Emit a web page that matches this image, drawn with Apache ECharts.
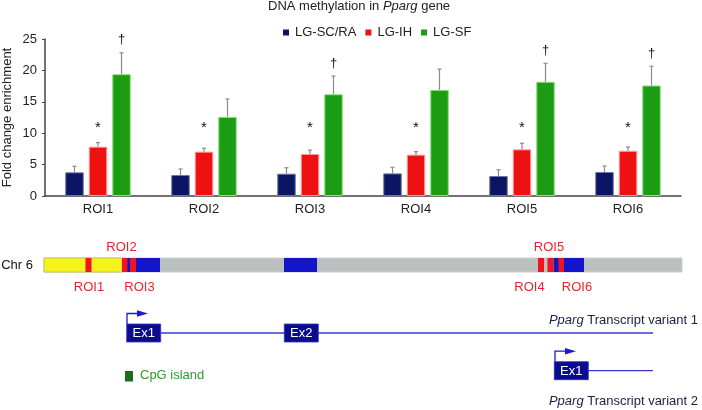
<!DOCTYPE html>
<html><head><meta charset="utf-8">
<script src="https://cdn.jsdelivr.net/npm/echarts@6/dist/echarts.min.js"></script>
<style>html,body{margin:0;padding:0;background:#fff}#c{width:702px;height:410px}</style>
</head><body><div id="c"></div>
<script>
// ---------- DATA ----------
const categories = ['ROI1', 'ROI2', 'ROI3', 'ROI4', 'ROI5', 'ROI6'];
const seriesNames = ['LG-SC/RA', 'LG-IH', 'LG-SF'];
const scra = [3.77, 3.34, 3.55, 3.60, 3.18, 3.82];
const scraSD = [0.96, 0.96, 0.95, 0.97, 1.00, 0.96];
const ih = [7.85, 7.06, 6.70, 6.58, 7.43, 7.20];
const ihSD = [0.65, 0.55, 0.60, 0.48, 0.97, 0.60];
const sf = [19.4, 12.6, 16.2, 16.9, 18.2, 17.6];
const sfSD = [3.40, 2.85, 2.90, 3.30, 2.93, 3.07];
const starFlags = [1, 1, 1, 1, 1, 1];     // * over LG-IH
const daggerFlags = [1, 0, 1, 0, 1, 1];   // † over LG-SF
const starLevel = 11.4;
const yTicks = [0, 5, 10, 15, 20, 25];

// gene map (arbitrary position units along Chr 6)
const chrStart = 0, chrEnd = 638;
const yellowSegs = [[0, 78]];
const blueSegs = [[78, 116], [240, 273], [509.5, 540]];
const roiNames = ['ROI1', 'ROI2', 'ROI3', 'ROI4', 'ROI5', 'ROI6'];
const roiStart = [41.5, 78, 86, 494, 503.5, 514.5];
const roiEnd = [47.5, 83.5, 92, 500, 509.5, 520];
const roiLabelPos = [45, 77.5, 95.5, 485.5, 505, 533];
const roiLabelSide = ['below', 'above', 'below', 'below', 'above', 'below'];
const tx1Exons = [['Ex1', 82.7, 116.7], ['Ex2', 240.3, 274.3]];
const tx1Span = [116.7, 609];
const tx2Exons = [['Ex1', 510.3, 544.3]];
const tx2Span = [544.3, 609];
const tssPos = [[83, 'tx1'], [511, 'tx2']];

// ---------- STYLE / LAYOUT ----------
const FONT = "'Liberation Sans', Arial, Helvetica, sans-serif";
const COLORS = ['#0b1563', '#ee1111', '#1c9c12'];
const BORDERS = ['#6a78a8', '#ff9a9a', '#8fe07f'];
const BAR_W = 18.5, BAR_GAP = 5;
const TRACK = {roiAbove: 7, chr: 25, roiBelow: 47, tx1Label: 80, tx1: 93, tx2: 130.7, tx2Label: 161.7};

const chart = echarts.init(document.getElementById('c'), null, {renderer: 'canvas'});

const means = [scra, ih, sf], sds = [scraSD, ihSD, sfSD];

function errSeries(i) {
  return {
    type: 'custom', xAxisIndex: 0, yAxisIndex: 0, z: 5, silent: true,
    data: categories.map((c, j) => [j, means[i][j], means[i][j] + sds[i][j]]),
    renderItem: function (params, api) {
      const off = (i - 1) * (BAR_W + BAR_GAP);
      const p0 = api.coord([api.value(0), api.value(1)]);
      const p1 = api.coord([api.value(0), api.value(2)]);
      const x = p0[0] + off;
      const st = {stroke: '#8a8a8a', lineWidth: 1.2};
      return {type: 'group', children: [
        {type: 'line', shape: {x1: x, y1: p0[1], x2: x, y2: p1[1]}, style: st},
        {type: 'line', shape: {x1: x - 2, y1: p1[1], x2: x + 2, y2: p1[1]}, style: st}
      ]};
    }
  };
}

const markSeries = {
  type: 'custom', xAxisIndex: 0, yAxisIndex: 0, z: 6, silent: true,
  data: categories.map((c, j) => [j, ih[j], sf[j] + sfSD[j], starFlags[j], daggerFlags[j]]),
  renderItem: function (params, api) {
    const ch = [];
    const j = api.value(0);
    if (api.value(3)) {
      const p = api.coord([j, starLevel]);
      ch.push({type: 'text', style: {text: '*', x: p[0], y: p[1] + 3, fill: '#111', font: '15px ' + FONT, align: 'center', verticalAlign: 'middle'}});
    }
    if (api.value(4)) {
      const p = api.coord([j, api.value(2)]);
      ch.push({type: 'text', style: {text: '†', x: p[0] + (BAR_W + BAR_GAP), y: p[1] - 13, fill: '#111', font: '13px ' + FONT, align: 'center', verticalAlign: 'middle'}});
    }
    return {type: 'group', children: ch};
  }
};

// ---- gene map series ----
const chrSeries = {
  type: 'custom', xAxisIndex: 1, yAxisIndex: 1, silent: true,
  data: [[chrStart, chrEnd, 0]].concat(yellowSegs.map(s => [s[0], s[1], 1]), blueSegs.map(s => [s[0], s[1], 2]),
        roiStart.map((s, k) => [s, roiEnd[k], 3])),
  renderItem: function (params, api) {
    const fills = ['#b9c0bf', '#f6f21c', '#1414c8', '#ee1520'];
    const t = api.value(2);
    const a = api.coord([api.value(0), TRACK.chr]);
    const b = api.coord([api.value(1), TRACK.chr]);
    const h = 14;
    const st = {fill: fills[t]};
    if (t === 0) { st.stroke = '#c9d0cf'; st.lineWidth = 1; }
    if (t === 1) { st.stroke = '#c8c45a'; st.lineWidth = 1; }
    return {type: 'rect', shape: {x: a[0], y: a[1] - h / 2, width: b[0] - a[0], height: h}, style: st};
  }
};

const roiLabelSeries = {
  type: 'custom', xAxisIndex: 1, yAxisIndex: 1, silent: true,
  data: roiLabelPos.map((x, k) => [x, roiLabelSide[k] === 'above' ? TRACK.roiAbove : TRACK.roiBelow, k]),
  renderItem: function (params, api) {
    const p = api.coord([api.value(0), api.value(1)]);
    return {type: 'text', style: {text: roiNames[api.value(2)], x: p[0], y: p[1], fill: '#e8262a', font: '13px ' + FONT, align: 'center', verticalAlign: 'middle'}};
  }
};

const txLineSeries = {
  type: 'custom', xAxisIndex: 1, yAxisIndex: 1, silent: true,
  data: [[tx1Span[0], tx1Span[1], TRACK.tx1], [tx2Span[0], tx2Span[1], TRACK.tx2]],
  renderItem: function (params, api) {
    const a = api.coord([api.value(0), api.value(2)]);
    const b = api.coord([api.value(1), api.value(2)]);
    return {type: 'line', shape: {x1: a[0], y1: a[1], x2: b[0], y2: b[1]}, style: {stroke: '#3a3ad8', lineWidth: 1.3}};
  }
};

const exonData = tx1Exons.map(e => [e[1], e[2], TRACK.tx1, e[0]]).concat(tx2Exons.map(e => [e[1], e[2], TRACK.tx2, e[0]]));
const exonSeries = {
  type: 'custom', xAxisIndex: 1, yAxisIndex: 1, silent: true, z: 3,
  data: exonData.map(d => [d[0], d[1], d[2]]),
  renderItem: function (params, api) {
    const a = api.coord([api.value(0), api.value(2)]);
    const b = api.coord([api.value(1), api.value(2)]);
    const h = 18;
    return {type: 'group', children: [
      {type: 'rect', shape: {x: a[0], y: a[1] - h / 2, width: b[0] - a[0], height: h}, style: {fill: '#0b0b92', stroke: '#3030c0', lineWidth: 0.8}},
      {type: 'text', style: {text: exonData[params.dataIndex][3], x: (a[0] + b[0]) / 2, y: a[1] + 0.5, fill: '#fff', font: '13px ' + FONT, align: 'center', verticalAlign: 'middle'}}
    ]};
  }
};

const tssSeries = {
  type: 'custom', xAxisIndex: 1, yAxisIndex: 1, silent: true, z: 4,
  data: tssPos.map(t => [t[0], TRACK[t[1]]]),
  renderItem: function (params, api) {
    const p = api.coord([api.value(0), api.value(1)]);
    const x = p[0], top = p[1] - 9, y = top - 10.5;
    const st = {stroke: '#1a1ad0', lineWidth: 1.3, fill: null};
    return {type: 'group', children: [
      {type: 'polyline', shape: {points: [[x, top], [x, y], [x + 11, y]]}, style: st},
      {type: 'polygon', shape: {points: [[x + 10, y - 3.2], [x + 21, y], [x + 10, y + 3.2]]}, style: {fill: '#1a1ad0'}}
    ]};
  }
};

const mapTextSeries = {
  type: 'custom', xAxisIndex: 1, yAxisIndex: 1, silent: true,
  data: [[-11, TRACK.chr, 0], [654, TRACK.tx1Label, 1], [654, TRACK.tx2Label, 2]],
  renderItem: function (params, api) {
    const p = api.coord([api.value(0), api.value(1)]);
    const k = api.value(2);
    const txt = k === 0 ? 'Chr 6' : ('{i|Pparg} Transcript variant ' + k);
    return {type: 'text', style: {text: txt, x: p[0], y: p[1], fill: k === 0 ? '#111' : '#1c1c48', font: '13px ' + FONT, align: 'right', verticalAlign: 'middle',
      rich: {i: {fontStyle: 'italic', font: 'italic 13px ' + FONT, fill: '#1c1c48'}}}};
  }
};

chart.setOption({
  animation: false,
  textStyle: {fontFamily: FONT},
  title: {
    text: '{a|DNA methylation in }{b|Pparg}{a| gene}',
    left: 268, top: 0, padding: 0,
    textStyle: {fontWeight: 'normal', rich: {
      a: {fontSize: 13, color: '#222', fontWeight: 'normal', fontFamily: FONT},
      b: {fontSize: 13, color: '#222', fontWeight: 'normal', fontStyle: 'italic', fontFamily: FONT}}}
  },
  legend: {
    data: seriesNames, left: 283, top: 26, padding: 0, itemWidth: 6, itemHeight: 6, itemGap: 9, icon: 'rect',
    itemStyle: {borderWidth: 0},
    textStyle: {fontSize: 13, color: '#222', fontFamily: FONT, padding: [0, 0, 0, 1]}
  },
  grid: [
    {left: 45, right: 21, top: 39, height: 157, containLabel: false, outerBoundsMode: 'none'},
    {left: 0, right: 0, top: 240, height: 170, containLabel: false, outerBoundsMode: 'none'}
  ],
  xAxis: [
    {type: 'category', gridIndex: 0, data: categories,
     axisLine: {lineStyle: {color: '#444', width: 1.5}}, axisTick: {show: false},
     axisLabel: {fontSize: 13, color: '#222', margin: 7}},
    {type: 'value', gridIndex: 1, min: -44, max: 658, show: false}
  ],
  yAxis: [
    {type: 'value', gridIndex: 0, min: 0, max: 25, interval: 5,
     name: 'Fold change enrichment', nameLocation: 'middle', nameGap: 31, nameRotate: 90, nameMoveOverlap: false,
     nameTextStyle: {fontSize: 13, color: '#222'},
     axisLine: {show: true, lineStyle: {color: '#444', width: 1.5}},
     axisTick: {show: true, length: 3, lineStyle: {color: '#444'}},
     axisLabel: {fontSize: 13, color: '#222', margin: 8},
     splitLine: {show: false}},
    {type: 'value', gridIndex: 1, min: 0, max: 170, inverse: true, show: false}
  ],
  graphic: [
    {type: 'rect', left: 125, top: 371, shape: {width: 8, height: 10.5}, style: {fill: '#1b6e1b'}},
    {type: 'text', left: 140, top: 369, style: {text: 'CpG island', fill: '#2e9a2a', font: '13px ' + FONT}}
  ],
  series: [
    {name: seriesNames[0], type: 'bar', data: scra, barWidth: BAR_W, barGap: (BAR_GAP / BAR_W * 100) + '%',
     itemStyle: {color: COLORS[0], borderColor: BORDERS[0], borderWidth: 1}},
    {name: seriesNames[1], type: 'bar', data: ih, barWidth: BAR_W, barGap: (BAR_GAP / BAR_W * 100) + '%',
     itemStyle: {color: COLORS[1], borderColor: BORDERS[1], borderWidth: 1}},
    {name: seriesNames[2], type: 'bar', data: sf, barWidth: BAR_W, barGap: (BAR_GAP / BAR_W * 100) + '%',
     itemStyle: {color: COLORS[2], borderColor: BORDERS[2], borderWidth: 1}},
    errSeries(0), errSeries(1), errSeries(2), markSeries,
    chrSeries, roiLabelSeries, txLineSeries, exonSeries, tssSeries, mapTextSeries
  ]
});
</script></body></html>
